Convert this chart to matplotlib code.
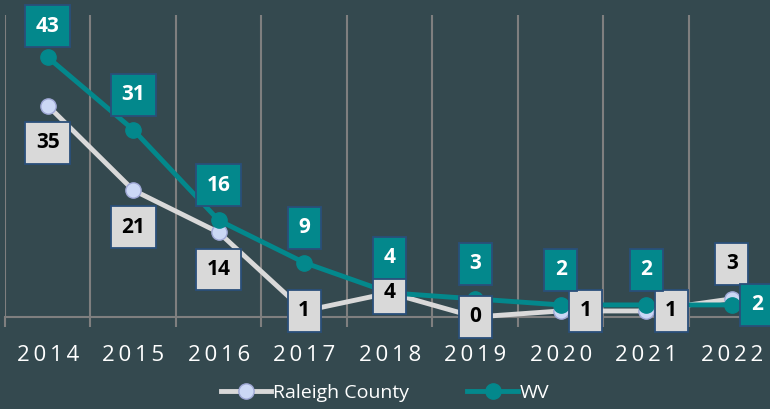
import matplotlib
matplotlib.use("Agg")
import matplotlib.pyplot as plt
from matplotlib.lines import Line2D

# data
years   = ["2014", "2015", "2016", "2017", "2018", "2019", "2020", "2021", "2022"]
raleigh = [35, 21, 14, 1, 4, 0, 1, 1, 3]
wv      = [43, 31, 16, 9, 4, 3, 2, 2, 2]

# label placement for each point
raleigh_pos = ["below", "below", "below", "center", "center", "center", "right", "right", "above"]
wv_pos      = ["top"] + ["above"] * 7 + ["right"]

BG      = "#34494F"
TEAL    = "#03888C"
LGRAY   = "#D9D9D9"
MARKER  = "#CBD8F5"
EDGE    = "#2A4F7A"
GRID    = "#7F7F7F"

plt.rcParams["font.family"] = ["Open Sans", "DejaVu Sans"]

fig = plt.figure(figsize=(7.7, 4.09), dpi=100, facecolor=BG)
ax = fig.add_axes([5 / 770, 92 / 409, 769.5 / 770, 302 / 409])
ax.set_facecolor(BG)

x = list(range(len(years)))

ax.plot(x, raleigh, color=LGRAY, lw=3.5, marker="o", ms=11,
        mfc=MARKER, mec="#9FA8D6", mew=1, zorder=3, label="Raleigh County",
        clip_on=False)
ax.plot(x, wv, color=TEAL, lw=3.5, marker="o", ms=11,
        mfc=TEAL, mec=TEAL, zorder=4, label="WV", clip_on=False)

ax.set_xlim(-0.5, len(years) - 0.5)
ax.set_ylim(0, 50)

# category boundaries as grid lines
ax.set_xticks([i - 0.5 for i in range(len(years) + 1)], minor=True)
ax.set_xticks(x)
ax.set_xticklabels(["\u2009".join(y) for y in years], color="white", fontsize=16)
ax.tick_params(axis="x", which="major", length=0, pad=20)
ax.tick_params(axis="x", which="minor", length=7, width=1.5, color=GRID)
ax.grid(axis="x", which="minor", color=GRID, lw=1.5)
ax.set_yticks([])
for s in ["top", "right", "left"]:
    ax.spines[s].set_visible(False)
ax.spines["bottom"].set_color(GRID)
ax.spines["bottom"].set_linewidth(1.5)

offsets = {"top": (0, 31), "above": (0, 35), "below": (0, -37),
           "center": (0, 0), "right": (25, 0)}


def put_labels(vals, places, face, txtcol, z):
    for i, (v, p) in enumerate(zip(vals, places)):
        ax.annotate(str(v), (i, v), xytext=offsets[p], textcoords="offset pixels",
                    ha="center", va="center", fontsize=15, fontweight="bold",
                    color=txtcol, zorder=z, annotation_clip=False,
                    bbox=dict(boxstyle="square,pad=0.5", fc=face, ec=EDGE, lw=1.3))


put_labels(raleigh, raleigh_pos, LGRAY, "black", 5)
put_labels(wv, wv_pos, TEAL, "white", 6)

handles = [
    Line2D([], [], color=LGRAY, lw=3.5, marker="o", ms=11, mfc=MARKER, mec="#9FA8D6"),
    Line2D([], [], color=TEAL, lw=3.5, marker="o", ms=11, mfc=TEAL, mec=TEAL),
]
fig.legend(handles, ["Raleigh County", "WV"], loc="center", bbox_to_anchor=(0.5, 16 / 409),
           ncol=2, frameon=False, fontsize=14, labelcolor="white",
           handlelength=2.6, handletextpad=0.1, columnspacing=3.0)

fig.savefig("out.png", dpi=100, facecolor=BG)
